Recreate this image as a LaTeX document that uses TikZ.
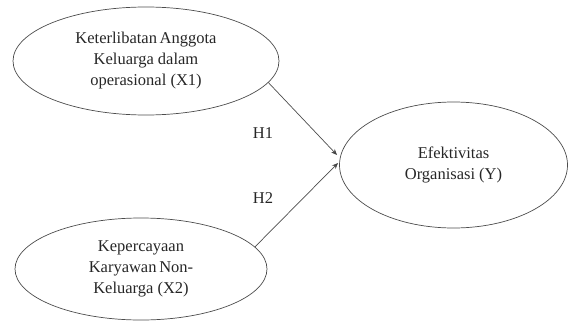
\documentclass[tikz,border=0pt]{standalone}
\usepackage{fontspec}
\setmainfont{Liberation Serif}
\usetikzlibrary{shapes.geometric,arrows.meta}
\begin{document}
\begin{tikzpicture}[x=1pt,y=-1pt,
  var/.style={ellipse,draw=black!70,line width=0.7pt,inner sep=0pt,align=center,
    text=black!85,font=\fontsize{16.5}{21}\selectfont},
  lbl/.style={text=black!85,font=\fontsize{16.5}{21}\selectfont,inner sep=0pt},
  link/.style={draw=black!70,line width=0.7pt,-{Stealth[length=6pt,width=5pt,fill=black]}}]
\useasboundingbox (0,0) rectangle (569,321);
\node[var,minimum width=266pt,minimum height=108pt] (x1) at (146,61)
  {Keterlibatan\,Anggota\\Keluarga dalam\\operasional (X1)};
\node[var,minimum width=252pt,minimum height=102pt] (x2) at (141,269)
  {Kepercayaan\\Karyawan\,Non-\\Keluarga (X2)};
\node[var,minimum width=228pt,minimum height=126pt] (y) at (453.5,165)
  {Efektivitas\\Organisasi (Y)};
\coordinate (tA) at (337,155);
\coordinate (tB) at (338,163);
\draw[link] (x1.-10) -- (tA);
\draw[link] (x2.11) -- (tB);
\node[lbl] (h1) at (263,133) {H1};
\node[lbl] (h2) at (263,198) {H2};
\end{tikzpicture}
\end{document}
